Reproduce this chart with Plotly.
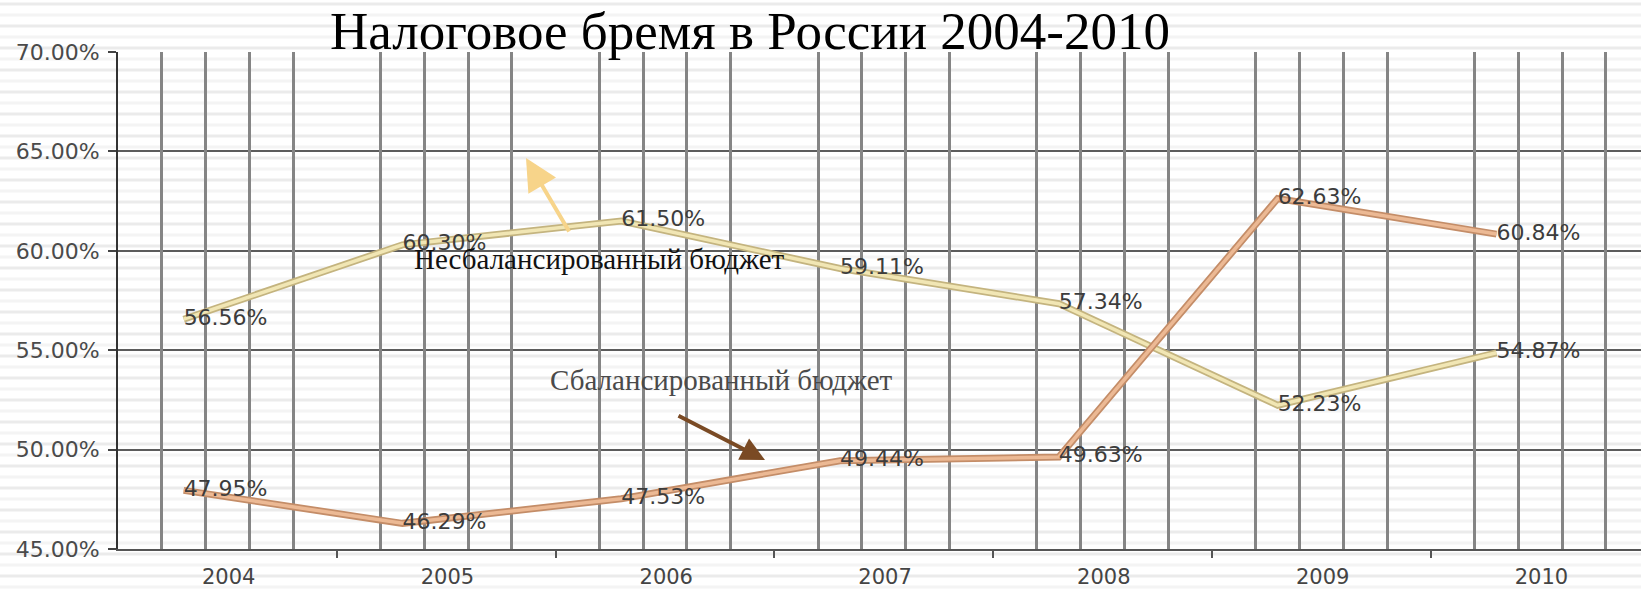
import plotly.graph_objects as go

# ---- data ----
years = [2004, 2005, 2006, 2007, 2008, 2009, 2010]
year_labels = ["2004", "2005", "2006", "2007", "2008", "2009", "2010"]
unbalanced = [56.56, 60.30, 61.50, 59.11, 57.34, 52.23, 54.87]
balanced = [47.95, 46.29, 47.53, 49.44, 49.63, 62.63, 60.84]
y_ticks = [45, 50, 55, 60, 65, 70]
y_tick_labels = ["45.00%", "50.00%", "55.00%", "60.00%", "65.00%", "70.00%"]
title_text = "Налоговое бремя в России 2004-2010"
label_unbalanced = "Несбалансированный бюджет"
label_balanced = "Сбалансированный бюджет"

# ---- geometry / style ----
W, H = 1641, 593
ML, MR, MT, MB = 118, 0, 52, 44
plot_w = W - ML - MR
plot_h = H - MT - MB
cat_px = 218.8
x0 = years[0] - 0.3
x1 = x0 + plot_w / cat_px

boundaries = [y + 0.7 for y in years[:-1]]
vgrid = [y + d for y in years for d in (-0.1, 0.1, 0.3, 0.5)]

fig = go.Figure()

# background stripes (slide texture)
stripes = []
for i in range(55):
    ypx = 4 + i * 11
    yp = (H - MB - ypx) / plot_h
    stripes.append(dict(type="line", xref="paper", yref="paper",
                        x0=-ML / plot_w, x1=1.0, y0=yp, y1=yp,
                        line=dict(color="#ebebeb" if i % 2 == 0 else "#f4f4f4", width=3),
                        layer="below"))

series = [
    (unbalanced, "#c4b47f", "#f1e6b4"),
    (balanced, "#c48d68", "#ecb994"),
]
for vals, edge, fill in series:
    fig.add_trace(go.Scatter(x=years, y=vals, mode="lines",
                             line=dict(color=edge, width=7),
                             hoverinfo="skip", showlegend=False))
    fig.add_trace(go.Scatter(x=years, y=vals, mode="lines+text",
                             line=dict(color=fill, width=3.5),
                             text=[f"{v:.2f}%" for v in vals],
                             textposition="middle right",
                             textfont=dict(family="DejaVu Sans", size=22, color="#3c3c3c"),
                             showlegend=False))

# invisible trace carrying the vertical-grid axis
fig.add_trace(go.Scatter(x=years, y=[None] * len(years), xaxis="x2",
                         mode="lines", showlegend=False, hoverinfo="skip"))

annotations = [
    dict(text=label_unbalanced, xref="paper", yref="paper",
         x=(412 - ML) / plot_w, y=(H - MB - 259) / plot_h,
         xanchor="left", yanchor="middle", showarrow=False,
         font=dict(family="Liberation Serif", size=29, color="#111111")),
    dict(text=label_balanced, xref="paper", yref="paper",
         x=(548 - ML) / plot_w, y=(H - MB - 380) / plot_h,
         xanchor="left", yanchor="middle", showarrow=False,
         font=dict(family="Liberation Serif", size=29, color="#4a4a4a")),
    dict(text="", xref="paper", yref="paper",
         x=(526 - ML) / plot_w, y=(H - MB - 158) / plot_h,
         ax=44, ay=75, showarrow=True, arrowhead=2, arrowsize=1.6,
         arrowwidth=4, arrowcolor="#f7d48a", standoff=0),
    dict(text="", xref="paper", yref="paper",
         x=(765 - ML) / plot_w, y=(H - MB - 460) / plot_h,
         ax=-88, ay=-45, showarrow=True, arrowhead=2, arrowsize=1.2,
         arrowwidth=4, arrowcolor="#7a4a24", standoff=0),
]

fig.update_layout(
    width=W, height=H,
    margin=dict(l=ML, r=MR, t=MT, b=MB, pad=0, autoexpand=False),
    paper_bgcolor="white",
    plot_bgcolor="rgba(0,0,0,0)",
    showlegend=False,
    shapes=stripes,
    annotations=annotations,
    title=dict(text=title_text, x=750 / W, xref="container", xanchor="center",
               y=1 - 30 / H, yref="container", yanchor="middle",
               font=dict(family="Liberation Serif", size=53, color="black")),
    xaxis=dict(type="linear", range=[x0, x1], automargin=False,
               tickmode="array", tickvals=years, ticktext=year_labels,
               ticks="", ticklabelshift=45, ticklabelstandoff=8,
               tickfont=dict(family="DejaVu Sans", size=21, color="#444444"),
               showgrid=False, zeroline=False,
               showline=True, linecolor="#555555", linewidth=2,
               minor=dict(tickmode="array", tickvals=boundaries, ticks="outside",
                          ticklen=7, tickwidth=2, tickcolor="#555555", showgrid=False)),
    xaxis2=dict(type="linear", range=[x0, x1], overlaying="x", anchor="y",
                automargin=False,
                tickmode="array", tickvals=vgrid, showgrid=True,
                gridcolor="#858585", gridwidth=3, showticklabels=False,
                ticks="", showline=False, zeroline=False),
    yaxis=dict(range=[45, 70], tickmode="array", tickvals=y_ticks,
               ticktext=y_tick_labels, automargin=False,
               ticks="outside", ticklen=8, tickwidth=2, tickcolor="#444444",
               ticklabelstandoff=4,
               tickfont=dict(family="DejaVu Sans", size=22, color="#4a4a4a"),
               showline=True, linecolor="#333333", linewidth=2,
               showgrid=True, gridcolor="#5c5c5c", gridwidth=2, zeroline=False),
)

fig.write_html("out.html",
               config={"displayModeBar": False},
               post_script="document.body.style.margin='0';document.body.style.overflow='hidden';")
